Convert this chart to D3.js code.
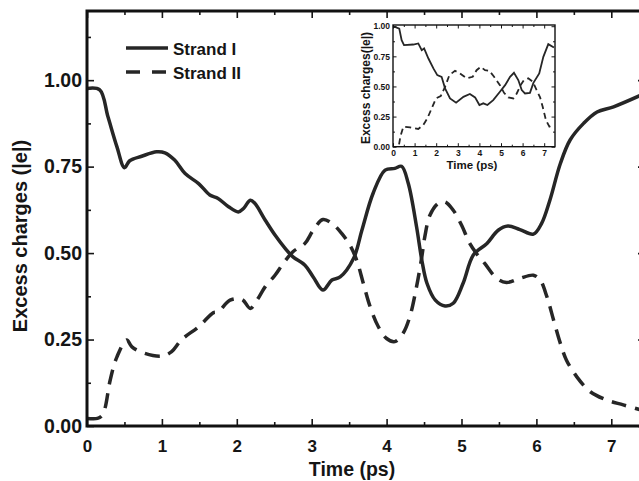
<!DOCTYPE html>
<meta charset="utf-8">
<style>
body { margin: 0; background: #fff; }
text { font-family: "Liberation Sans", Arial, sans-serif; font-weight: bold; fill: #151515; }
.tick line { stroke: #151515; }
</style>
<body>
<svg id="chart" width="639" height="481"></svg>
<script src="https://d3js.org/d3.v7.min.js"></script>
<script>
// main panel: excess charge on each strand vs time (ps)
var time1 = [0, 0.17, 0.28, 0.40, 0.50, 0.57, 0.73, 0.93, 1.04, 1.17, 1.31, 1.49, 1.64, 1.75, 1.89, 2.02, 2.09, 2.18, 2.24, 2.38,
  2.51, 2.64, 2.75, 2.91, 3.02, 3.15, 3.27, 3.38, 3.56, 3.67, 3.82, 3.98, 4.11, 4.20, 4.29, 4.40, 4.47, 4.54, 4.65, 4.78,
  4.89, 5.02, 5.16, 5.34, 5.49, 5.62, 5.78, 5.96, 6.07, 6.18, 6.32, 6.45, 6.63, 6.81, 7.03, 7.45];
var strand1 = [0.976, 0.972, 0.894, 0.807, 0.747, 0.767, 0.780, 0.793, 0.790, 0.769, 0.730, 0.701, 0.668, 0.658, 0.634, 0.619, 0.629, 0.653, 0.644, 0.595,
  0.552, 0.515, 0.489, 0.465, 0.431, 0.393, 0.422, 0.431, 0.485, 0.566, 0.673, 0.740, 0.745, 0.751, 0.701, 0.576, 0.480, 0.412, 0.364, 0.347,
  0.355, 0.412, 0.495, 0.528, 0.566, 0.578, 0.568, 0.555, 0.586, 0.653, 0.759, 0.827, 0.875, 0.908, 0.923, 0.962];

var time2 = [0, 0.14, 0.20, 0.24, 0.31, 0.40, 0.53, 0.60, 0.77, 1.00, 1.13, 1.26, 1.49, 1.69, 1.75, 1.91, 2.07, 2.18, 2.27, 2.38,
  2.51, 2.62, 2.75, 2.91, 3.02, 3.15, 3.27, 3.40, 3.51, 3.60, 3.69, 3.78, 3.89, 4.00, 4.11, 4.22, 4.31, 4.40, 4.47, 4.51,
  4.58, 4.69, 4.78, 4.89, 5.00, 5.11, 5.20, 5.31, 5.47, 5.60, 5.78, 5.96, 6.05, 6.14, 6.23, 6.32, 6.40, 6.54, 6.72, 6.94, 7.16, 7.45];
var strand2 = [0.022, 0.022, 0.030, 0.051, 0.133, 0.200, 0.249, 0.229, 0.210, 0.202, 0.215, 0.249, 0.287, 0.328, 0.330, 0.364, 0.366, 0.340, 0.364, 0.403,
  0.436, 0.470, 0.504, 0.528, 0.566, 0.597, 0.586, 0.557, 0.523, 0.480, 0.412, 0.345, 0.287, 0.253, 0.244, 0.268, 0.316, 0.403, 0.489, 0.547,
  0.610, 0.644, 0.648, 0.624, 0.581, 0.528, 0.499, 0.470, 0.427, 0.415, 0.427, 0.436, 0.422, 0.374, 0.306, 0.239, 0.191, 0.142, 0.099, 0.075, 0.061, 0.043];

// inset panel
var insetTime1 = [0, 0.09, 0.29, 0.40, 0.51, 0.94, 1.17, 1.33, 1.44, 1.64, 1.87, 2.05, 2.25, 2.41, 2.64, 2.92, 3.26, 3.56, 3.80, 4.00,
  4.18, 4.37, 4.64, 4.95, 5.19, 5.42, 5.60, 5.80, 5.96, 6.11, 6.34, 6.50, 6.77, 6.96, 7.19, 7.45];
var insetStrand1 = [0.99, 0.994, 0.98, 0.884, 0.843, 0.848, 0.857, 0.801, 0.815, 0.732, 0.650, 0.594, 0.580, 0.484, 0.401, 0.365, 0.414, 0.437, 0.409, 0.346,
  0.360, 0.346, 0.387, 0.456, 0.511, 0.580, 0.613, 0.553, 0.470, 0.442, 0.447, 0.530, 0.608, 0.746, 0.851, 0.823];
var insetTime2 = [0.28, 0.35, 0.48, 0.79, 1.17, 1.40, 1.59, 1.79, 1.99, 2.21, 2.41, 2.61, 2.87, 3.10, 3.41, 3.69, 3.87, 4.06, 4.26, 4.46,
  4.68, 4.95, 5.14, 5.34, 5.57, 5.73, 5.91, 6.06, 6.26, 6.47, 6.65, 6.81, 6.93, 7.08, 7.24, 7.43];
var insetStrand2 = [0.02, 0.09, 0.166, 0.160, 0.147, 0.180, 0.235, 0.318, 0.401, 0.420, 0.497, 0.594, 0.630, 0.608, 0.567, 0.580, 0.635, 0.663, 0.635, 0.630,
  0.580, 0.511, 0.447, 0.409, 0.401, 0.442, 0.511, 0.553, 0.567, 0.539, 0.470, 0.409, 0.331, 0.221, 0.166, 0.180];

var xMajor = [0, 1, 2, 3, 4, 5, 6, 7];
var xMinor = [0.5, 1.5, 2.5, 3.5, 4.5, 5.5, 6.5];
var yMajor = [0, 0.25, 0.5, 0.75, 1.0];
var yMinor = [0.125, 0.375, 0.625, 0.875, 1.125];
var yLabels = ["0.00", "0.25", "0.50", "0.75", "1.00"];
var seriesNames = ["Strand I", "Strand II"];

var svg = d3.select("#chart");
var ink = "#262626";

// boxed frame, inward ticks on all four sides (labels only bottom/left)
function frame(g, x, y, o) {
  var r = x.range(), h = y.range();
  var sides = [
    {ax: d3.axisBottom, t: "translate(0," + h[0] + ")", lab: true, isX: true},
    {ax: d3.axisTop, t: "translate(0," + h[1] + ")", lab: false, isX: true},
    {ax: d3.axisLeft, t: "translate(" + r[0] + ",0)", lab: true, isX: false},
    {ax: d3.axisRight, t: "translate(" + r[1] + ",0)", lab: false, isX: false}
  ];
  sides.forEach(function(s) {
    var sc = s.isX ? x : y;
    var minors = (s.isX ? xMinor : yMinor).filter(function(d) { return d <= sc.domain()[1]; });
    // major ticks + labels
    g.append("g").attr("transform", s.t)
      .call(s.ax(sc).tickValues(s.isX ? xMajor : yMajor).tickSizeInner(-o.major).tickSizeOuter(0)
        .tickPadding(s.isX ? o.xPad : o.yPad)
        .tickFormat(function(d, i) { return s.lab ? (s.isX ? String(d) : yLabels[i]) : ""; }))
      .call(function(a) {
        a.select(".domain").remove();
        a.selectAll(".tick line").attr("stroke-width", o.tickW);
        a.selectAll("text").style("font-size", (s.isX ? o.xFont : o.yFont) + "px");
      });
    // minor ticks
    g.append("g").attr("transform", s.t)
      .call(s.ax(sc).tickValues(minors).tickSizeInner(-o.minor).tickSizeOuter(0).tickFormat(""))
      .call(function(a) {
        a.select(".domain").remove();
        a.selectAll(".tick line").attr("stroke-width", o.tickW);
      });
  });
  g.append("rect")
    .attr("x", r[0]).attr("y", h[1])
    .attr("width", r[1] - r[0]).attr("height", h[0] - h[1])
    .attr("fill", "none").attr("stroke", "#111").attr("stroke-width", o.frameW);
}

function pairs(t, v) { return t.map(function(d, i) { return [d, v[i]]; }); }

// ---- main panel
var x = d3.scaleLinear().domain([0, 7.45]).range([87, 645]);
var y = d3.scaleLinear().domain([0, 1.2]).range([426, 11]);

var line = d3.line()
    .x(function(d) { return x(d[0]); })
    .y(function(d) { return y(d[1]); })
    .curve(d3.curveCatmullRom.alpha(0.5));

var main = svg.append("g");
main.append("path").datum(pairs(time1, strand1))
    .attr("d", line).attr("fill", "none").attr("stroke", ink).attr("stroke-width", 3.5);
main.append("path").datum(pairs(time2, strand2))
    .attr("d", line).attr("fill", "none").attr("stroke", ink).attr("stroke-width", 3.5)
    .attr("stroke-dasharray", "15,9");

frame(main, x, y, {major: 7, minor: 4, tickW: 1.6, frameW: 3, xPad: 14, yPad: 5, xFont: 17, yFont: 19.5});

svg.append("text").attr("x", 352).attr("y", 476).attr("text-anchor", "middle")
    .style("font-size", "19.5px").text("Time (ps)");
svg.append("text").attr("transform", "translate(27,236) rotate(-90)").attr("text-anchor", "middle")
    .style("font-size", "20px").text("Excess charges (|e|)");

// legend
var legend = svg.append("g");
[0, 1].forEach(function(i) {
  var ly = 48 + i * 24;
  legend.append("line").attr("x1", 126).attr("x2", 168).attr("y1", ly).attr("y2", ly)
      .attr("stroke", ink).attr("stroke-width", 3.5)
      .attr("stroke-dasharray", i ? "14,12" : null);
  legend.append("text").attr("x", 173).attr("y", ly + 6.5)
      .style("font-size", "17px").text(seriesNames[i]);
});

// ---- inset panel
var ix = d3.scaleLinear().domain([0, 7.5]).range([393, 555]);
var iy = d3.scaleLinear().domain([0, 1.01]).range([146.7, 25]);

var iline = d3.line()
    .x(function(d) { return ix(d[0]); })
    .y(function(d) { return iy(d[1]); })
    .curve(d3.curveLinear);

var inset = svg.append("g");
inset.append("rect").attr("x", 393).attr("y", 25).attr("width", 162).attr("height", 122).attr("fill", "#fff");
inset.append("path").datum(pairs(insetTime1, insetStrand1))
    .attr("d", iline).attr("fill", "none").attr("stroke", ink).attr("stroke-width", 1.8);
inset.append("path").datum(pairs(insetTime2, insetStrand2))
    .attr("d", iline).attr("fill", "none").attr("stroke", ink).attr("stroke-width", 1.8)
    .attr("stroke-dasharray", "6,4");

frame(inset, ix, iy, {major: 3.5, minor: 2, tickW: 1, frameW: 1.4, xPad: 3, yPad: 3, xFont: 8.5, yFont: 8.5});

svg.append("text").attr("x", 472).attr("y", 169).attr("text-anchor", "middle")
    .style("font-size", "11.5px").text("Time (ps)");
svg.append("text").attr("transform", "translate(370,88) rotate(-90)").attr("text-anchor", "middle")
    .style("font-size", "12px").text("Excess charges(|e|)");
</script>
</body>
